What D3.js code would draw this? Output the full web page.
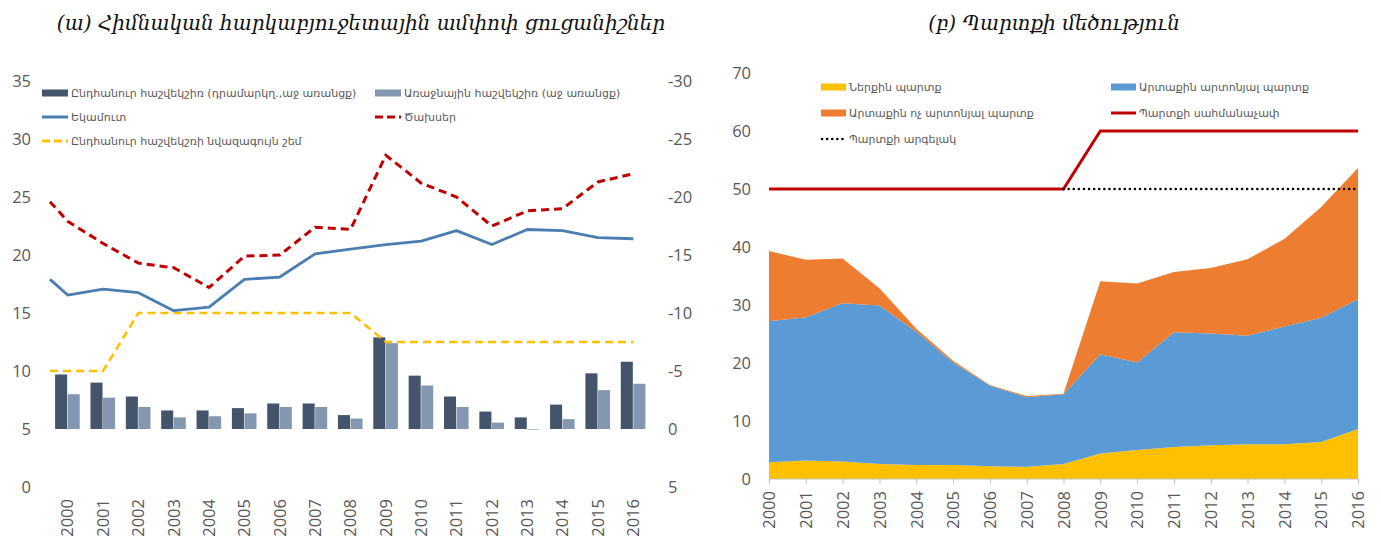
<!DOCTYPE html>
<html>
<head>
<meta charset="utf-8">
<script src="https://cdn.jsdelivr.net/npm/d3@7"></script>
<style>
  html, body { margin: 0; padding: 0; background: #fff; }
  svg { display: block; }
</style>
</head>
<body>
<svg id="chart" width="1381" height="544"></svg>
<script>
// ---------------- DATA ----------------
const years = [2000,2001,2002,2003,2004,2005,2006,2007,2008,2009,2010,2011,2012,2013,2014,2015,2016];

// Panel (a)
const titleA = "(ա) Հիմնական հարկաբյուջետային ամփոփ ցուցանիշներ";
const overallBalance = [-4.7,-4.0,-2.8,-1.6,-1.6,-1.8,-2.2,-2.2,-1.2,-7.9,-4.6,-2.8,-1.5,-1.0,-2.1,-4.8,-5.8];
const primaryBalance = [-3.0,-2.7,-1.9,-1.0,-1.1,-1.35,-1.9,-1.9,-0.9,-7.4,-3.75,-1.9,-0.55,0.05,-0.85,-3.35,-3.9];
// line series start at the left edge of the plot (1999.5) then one value per year
const lineYears = [1999.5, ...years];
const revenue     = [17.9,16.55,17.05,16.75,15.2,15.5,17.9,18.1,20.1,20.5,20.9,21.2,22.1,20.9,22.2,22.1,21.5,21.4];
const expenditure = [24.6,22.9,21.0,19.3,18.9,17.2,19.9,20.0,22.4,22.2,28.6,26.2,25.0,22.5,23.8,24.0,26.3,27.0];
const minBalanceThreshold = [10,10,10,15,15,15,15,15,15,15,12.5,12.5,12.5,12.5,12.5,12.5,12.5,12.5];
const leftTicksA = [0,5,10,15,20,25,30,35];
const rightTicksA = [5,0,-5,-10,-15,-20,-25,-30];
const legendA = [
  {label:"Ընդհանուր հաշվեկշիռ (դրամարկղ.,աջ առանցք)", type:"bar", key:"overall"},
  {label:"Առաջնային հաշվեկշիռ (աջ առանցք)", type:"bar", key:"primary"},
  {label:"Եկամուտ", type:"line", key:"revenue"},
  {label:"Ծախսեր", type:"line", key:"expenditure"},
  {label:"Ընդհանուր հաշվեկշռի նվազագույն շեմ", type:"line", key:"threshold"}
];

// Panel (b)
const titleB = "(բ) Պարտքի մեծություն";
const domesticDebt      = [2.9,3.2,3.0,2.6,2.4,2.4,2.2,2.1,2.6,4.4,5.0,5.5,5.8,6.0,6.0,6.4,8.6];
const extConcessional   = [24.3,24.7,27.3,27.3,23.0,17.7,13.9,12.0,12.0,17.1,15.1,19.8,19.3,18.7,20.3,21.4,22.4];
const extNonConcessional= [12.1,9.9,7.7,3.0,0.5,0.3,0.1,0.2,0.1,12.6,13.6,10.4,11.3,13.2,15.1,19.1,22.6];
const debtCeiling = [50,50,50,50,50,50,50,50,50,60,60,60,60,60,60,60,60];
const debtAnchorYears = [2008,2009,2010,2011,2012,2013,2014,2015,2016];
const debtAnchor = [50,50,50,50,50,50,50,50,50];
const yTicksB = [0,10,20,30,40,50,60,70];
const legendB = [
  {label:"Ներքին պարտք", type:"area", key:"domestic"},
  {label:"Արտաքին արտոնյալ պարտք", type:"area", key:"concessional"},
  {label:"Արտաքին ոչ արտոնյալ պարտք", type:"area", key:"nonconcessional"},
  {label:"Պարտքի սահմանաչափ", type:"line", key:"ceiling"},
  {label:"Պարտքի արգելակ", type:"line", key:"anchor"}
];

// ---------------- STYLES ----------------
const C = {
  overall:"#44546A", primary:"#8497B0", revenue:"#4A7EB0", expenditure:"#C00000", threshold:"#FFC000",
  domestic:"#FFC000", concessional:"#5B9BD5", nonconcessional:"#ED7D31", ceiling:"#C00000", anchor:"#000000",
  text:"#595959"
};
const numFont = "'Open Sans', 'Noto Sans', sans-serif";
const armFont = "'DejaVu Sans', sans-serif";
const titleFont = "'DejaVu Serif', serif";
const legendSize = 11;

const svg = d3.select("#chart");

// ================= PANEL A =================
const gA = svg.append("g");
const xA = d3.scaleBand().domain(years).range([50, 651]).paddingInner(0.29).paddingOuter(0.145);
const xAline = d3.scaleLinear().domain([1999.5, 2016.5]).range([50, 651]);
const xSub = d3.scaleBand().domain(["overall","primary"]).range([0, xA.bandwidth()]);
const yL = d3.scaleLinear().domain([0, 35]).range([487, 81]);
const yR = d3.scaleLinear().domain([5, -30]).range([487, 81]);

gA.append("text").attr("x", 361).attr("y", 30).attr("text-anchor","middle")
  .attr("font-family", titleFont).attr("font-style","italic").attr("font-size", 20).attr("fill","#111")
  .text(titleA);

// axes (labels only, no lines)
const axL = d3.axisLeft(yL).tickValues(leftTicksA).tickSize(0).tickPadding(0);
gA.append("g").attr("transform","translate(31,0)").call(axL)
  .call(g => { g.select(".domain").remove(); g.selectAll("text").attr("font-size",16.5).attr("font-family",numFont).attr("fill",C.text); });
const axR = d3.axisRight(yR).tickValues(rightTicksA).tickSize(0).tickPadding(0).tickFormat(d => String(d));
gA.append("g").attr("transform","translate(668,0)").call(axR)
  .call(g => { g.select(".domain").remove(); g.selectAll("text").attr("font-size",16.5).attr("font-family",numFont).attr("fill",C.text); });

// x labels
const axXA = d3.axisBottom(xA).tickSize(0).tickPadding(0);
gA.append("g").attr("transform","translate(0,499)").call(axXA)
  .call(g => { g.select(".domain").remove();
    g.selectAll("text").attr("font-size",16.5).attr("font-family",numFont).attr("fill",C.text)
      .attr("transform","rotate(-90)").attr("text-anchor","end").attr("x",0).attr("y",0).attr("dy","0.35em"); });

// bars
const barData = years.map((y,i)=>({year:y, overall:overallBalance[i], primary:primaryBalance[i]}));
const groups = gA.append("g").selectAll("g").data(barData).join("g")
  .attr("transform", d=>`translate(${xA(d.year)},0)`);
groups.selectAll("rect").data(d=>["overall","primary"].map(k=>({k, v:d[k]}))).join("rect")
  .attr("x", d=>xSub(d.k)).attr("width", xSub.bandwidth()-0.5)
  .attr("y", d=>Math.min(yR(d.v), yR(0))).attr("height", d=>Math.abs(yR(d.v)-yR(0)))
  .attr("fill", d=>C[d.k]);

// lines
const lineA = (arr, scale) => d3.line().x((d,i)=>xAline(lineYears[i])).y(d=>scale(d))(arr);
gA.append("path").attr("d", lineA(minBalanceThreshold, yL)).attr("fill","none")
  .attr("stroke", C.threshold).attr("stroke-width", 2.6).attr("stroke-dasharray","8,5");
gA.append("path").attr("d", lineA(revenue, yL)).attr("fill","none")
  .attr("stroke", C.revenue).attr("stroke-width", 2.8).attr("stroke-linejoin","round");
gA.append("path").attr("d", lineA(expenditure, yL)).attr("fill","none")
  .attr("stroke", C.expenditure).attr("stroke-width", 3).attr("stroke-dasharray","8,5");

// legend A
const legPosA = [[42,93],[375,93],[42,117],[375,117],[42,141]];
legendA.forEach((it,i)=>{
  const [lx,ly] = legPosA[i];
  const g = gA.append("g");
  if (it.type==="bar") {
    g.append("rect").attr("x",lx).attr("y",ly-3.5).attr("width",26).attr("height",7).attr("fill",C[it.key]);
  } else {
    const ln = g.append("line").attr("x1",lx).attr("x2",lx+26).attr("y1",ly).attr("y2",ly)
      .attr("stroke",C[it.key]).attr("stroke-width", 3);
    if (it.key!=="revenue") ln.attr("stroke-dasharray","8,4");
  }
  g.append("text").attr("x",lx+29).attr("y",ly).attr("dy","0.35em")
    .attr("font-family",armFont).attr("font-size",legendSize).attr("fill",C.text).text(it.label);
});

// ================= PANEL B =================
const gB = svg.append("g");
const xB = d3.scalePoint().domain(years).range([769, 1358]);
const yB = d3.scaleLinear().domain([0, 70]).range([479, 73]);

gB.append("text").attr("x", 1054).attr("y", 30).attr("text-anchor","middle")
  .attr("font-family", titleFont).attr("font-style","italic").attr("font-size", 20).attr("fill","#111")
  .text(titleB);

const stackData = years.map((y,i)=>({year:y, domestic:domesticDebt[i], concessional:extConcessional[i], nonconcessional:extNonConcessional[i]}));
const stack = d3.stack().keys(["domestic","concessional","nonconcessional"])(stackData);
const area = d3.area().x(d=>xB(d.data.year)).y0(d=>yB(d[0])).y1(d=>yB(d[1]));
gB.append("g").selectAll("path").data(stack).join("path")
  .attr("d", area).attr("fill", d=>C[d.key]);

// y axis labels
const axB = d3.axisLeft(yB).tickValues(yTicksB).tickSize(0).tickPadding(0);
gB.append("g").attr("transform","translate(751,0)").call(axB)
  .call(g => { g.select(".domain").remove(); g.selectAll("text").attr("font-size",16.5).attr("font-family",numFont).attr("fill",C.text); });

// x axis with ticks
const axXB = d3.axisBottom(xB).tickSize(5).tickPadding(0).tickSizeOuter(0);
gB.append("g").attr("transform","translate(0,479)").call(axXB)
  .call(g => {
    g.select(".domain").attr("stroke","#BFBFBF").attr("d", `M${xB.range()[0]},0H${xB.range()[1]}`);
    g.selectAll(".tick line").attr("stroke","#BFBFBF");
    g.selectAll("text").attr("font-size",16.5).attr("font-family",numFont).attr("fill",C.text)
      .attr("transform","translate(0,12) rotate(-90)").attr("text-anchor","end").attr("x",0).attr("y",0).attr("dy","0.35em");
  });

// ceiling & anchor lines
gB.append("path").attr("d", d3.line().x((d,i)=>xB(years[i])).y(d=>yB(d))(debtCeiling))
  .attr("fill","none").attr("stroke",C.ceiling).attr("stroke-width",3);
gB.append("path").attr("d", d3.line().x((d,i)=>xB(debtAnchorYears[i])).y(d=>yB(d))(debtAnchor))
  .attr("fill","none").attr("stroke",C.anchor).attr("stroke-width",2.5)
  .attr("stroke-dasharray","0.1,5").attr("stroke-linecap","round");

// legend B
const legPosB = [[821,87],[1111,87],[821,113],[1111,113],[821,139]];
legendB.forEach((it,i)=>{
  const [lx,ly] = legPosB[i];
  const g = gB.append("g");
  if (it.type==="area") {
    g.append("rect").attr("x",lx).attr("y",ly-3.5).attr("width",25).attr("height",7).attr("fill",C[it.key]);
  } else if (it.key==="ceiling") {
    g.append("line").attr("x1",lx).attr("x2",lx+25).attr("y1",ly).attr("y2",ly).attr("stroke",C.ceiling).attr("stroke-width",3);
  } else {
    g.append("line").attr("x1",lx+1).attr("x2",lx+25).attr("y1",ly).attr("y2",ly).attr("stroke",C.anchor)
      .attr("stroke-width",2.5).attr("stroke-dasharray","0.1,5").attr("stroke-linecap","round");
  }
  g.append("text").attr("x",lx+28).attr("y",ly).attr("dy","0.35em")
    .attr("font-family",armFont).attr("font-size",legendSize).attr("fill",C.text).text(it.label);
});
</script>
</body>
</html>
